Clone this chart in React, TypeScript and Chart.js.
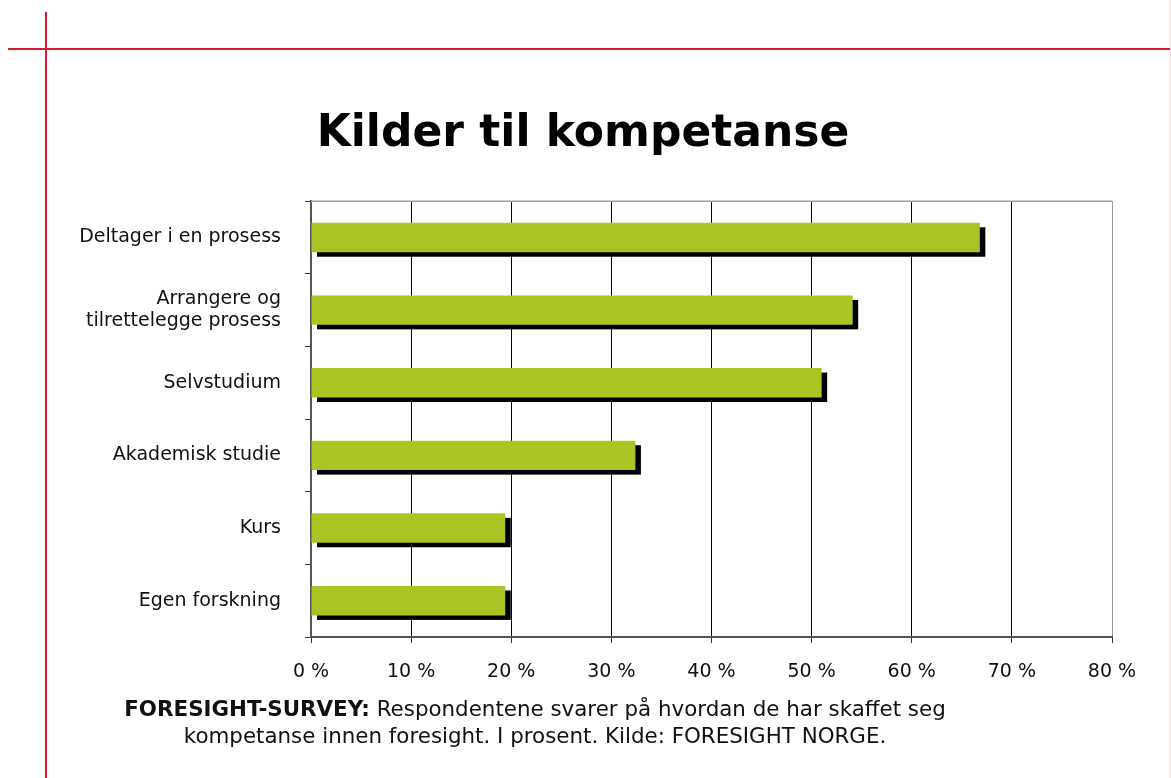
import React, { useEffect, useRef } from "react";
import { Chart, registerables } from "chart.js";

Chart.register(...registerables);

const titleText = "Kilder til kompetanse";
const categories: (string | string[])[] = [
  "Deltager i en prosess",
  ["Arrangere og", "tilrettelegge prosess"],
  "Selvstudium",
  "Akademisk studie",
  "Kurs",
  "Egen forskning",
];
const values = [66.8, 54.1, 51.0, 32.4, 19.4, 19.4];
const xMin = 0;
const xMax = 80;
const xStep = 10;
const captionBold = "FORESIGHT-SURVEY:";
const captionLine1 = " Respondentene svarer på hvordan de har skaffet seg";
const captionLine2 = "kompetanse innen foresight. I prosent. Kilde: FORESIGHT NORGE.";

const FONT = "'DejaVu Sans', Verdana, sans-serif";
const GREEN = "#a9c523";
const RED = "#d7192f";

const shadowPlugin = {
  id: "barShadow",
  beforeDatasetsDraw(chart: any) {
    const ctx = chart.ctx;
    const meta = chart.getDatasetMeta(0);
    ctx.save();
    ctx.fillStyle = "#000";
    meta.data.forEach((bar: any) => {
      const { x, y, base, height } = bar.getProps(["x", "y", "base", "height"], true);
      ctx.fillRect(base + 5.5, y - height / 2 + 4.5, x - base, height);
    });
    ctx.restore();
  },
};

const framePlugin = {
  id: "plotFrame",
  beforeDatasetsDraw(chart: any) {
    const { ctx, chartArea } = chart;
    ctx.save();
    ctx.strokeStyle = "#a0a0a0";
    ctx.lineWidth = 1.5;
    ctx.beginPath();
    ctx.moveTo(chartArea.left, chartArea.top);
    ctx.lineTo(chartArea.right, chartArea.top);
    ctx.stroke();
    ctx.restore();
  },
};

export default function App() {
  const canvasRef = useRef<HTMLCanvasElement | null>(null);

  useEffect(() => {
    if (!canvasRef.current) return;
    const chart = new Chart(canvasRef.current, {
      type: "bar",
      data: {
        labels: categories as any,
        datasets: [
          {
            data: values,
            backgroundColor: GREEN,
            borderWidth: 0,
            barPercentage: 0.405,
            categoryPercentage: 1,
          },
        ],
      },
      options: {
        indexAxis: "y",
        responsive: false,
        animation: false,
        layout: { padding: { left: 54, right: 59, top: 0, bottom: 0 } },
        plugins: {
          legend: { display: false },
          tooltip: { enabled: false },
          title: {
            display: true,
            text: titleText,
            color: "#000",
            font: { family: FONT, size: 44, weight: "bold" },
            padding: { top: 108.6, bottom: 39.8 },
          },
        },
        scales: {
          x: {
            type: "linear",
            min: xMin,
            max: xMax,
            afterFit: (scale: any) => {
              scale.height = 141;
            },
            ticks: {
              stepSize: xStep,
              color: "#111",
              padding: 18,
              font: { family: FONT, size: 19 },
              callback: (v: any) => `${v} %`,
            },
            grid: {
              color: (c: any) => (c.tick && c.tick.value === xMax ? "#9a9a9a" : "#000"),
              lineWidth: 1,
              tickLength: 6,
              tickColor: "#333",
            },
            border: { color: "#555", width: 2 },
          },
          y: {
            type: "category",
            afterFit: (scale: any) => {
              scale.width = 257;
            },
            ticks: {
              color: "#111",
              padding: 24,
              font: { family: FONT, size: 19 },
            },
            grid: {
              offset: true,
              drawOnChartArea: false,
              drawTicks: true,
              tickLength: 6,
              tickColor: "#333",
            },
            border: { color: "#555", width: 2 },
          },
        },
      },
      plugins: [shadowPlugin, framePlugin],
    });
    return () => chart.destroy();
  }, []);

  return (
    <div
      style={{
        position: "absolute",
        left: 0,
        top: 0,
        width: 1171,
        height: 778,
        overflow: "hidden",
        background: "#fff",
      }}
    >
      <canvas
        ref={canvasRef}
        width={1171}
        height={778}
        style={{ position: "absolute", left: 0, top: 0, width: 1171, height: 778 }}
      />
      <div style={{ position: "absolute", left: 45, top: 12, width: 2, height: 766, background: RED }} />
      <div style={{ position: "absolute", left: 8, top: 48, width: 1163, height: 2, background: RED }} />
      <div style={{ position: "absolute", left: 46, top: 48, width: 38, height: 2, background: RED }} />
      <div style={{ position: "absolute", left: 1170, top: 0, width: 1, height: 778, background: "#f6d6da" }} />
      <div
        style={{
          position: "absolute",
          left: 0,
          top: 695,
          width: 1070,
          textAlign: "center",
          fontFamily: FONT,
          fontSize: 21.4,
          lineHeight: "27px",
          color: "#111",
          whiteSpace: "nowrap",
        }}
      >
        <b>{captionBold}</b>
        {captionLine1}
        <br />
        {captionLine2}
      </div>
    </div>
  );
}
